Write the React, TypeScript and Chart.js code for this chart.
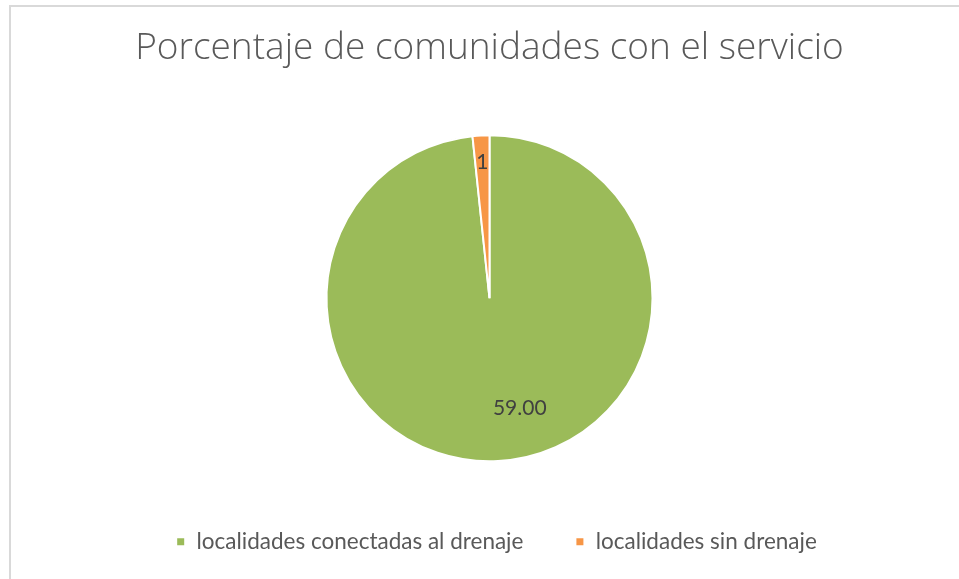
import React, { useEffect, useRef } from "react";
import { Chart, registerables } from "chart.js";

Chart.register(...registerables);

const categories = ["localidades conectadas al drenaje", "localidades sin drenaje"];
const values = [59, 1];
const valueLabels = ["59.00", "1"];
const colors = ["#9BBB59", "#F79646"];
const titleText = "Porcentaje de comunidades con el servicio";

// label placement along each arc: fraction of angle span, fraction of radius
const labelAngleFrac = [0.465, 0.5];
const labelRadiusFrac = [0.7, 0.835];

const labelPlugin = {
  id: "sliceLabels",
  afterDatasetsDraw(chart: any) {
    const ctx = chart.ctx;
    const meta = chart.getDatasetMeta(0);
    ctx.save();
    ctx.font = "21px Lato";
    ctx.fillStyle = "#404040";
    ctx.textAlign = "center";
    ctx.textBaseline = "middle";
    meta.data.forEach((arc: any, i: number) => {
      const { x, y, startAngle, endAngle, outerRadius } = arc.getProps(
        ["x", "y", "startAngle", "endAngle", "outerRadius"],
        true
      );
      const a = startAngle + (endAngle - startAngle) * labelAngleFrac[i];
      const r = outerRadius * labelRadiusFrac[i];
      ctx.fillText(valueLabels[i], x + Math.cos(a) * r, y + Math.sin(a) * r);
    });
    ctx.restore();
  },
};

const legendShift = {
  id: "legendShift",
  afterLayout(chart: any) {
    if (chart.legend) {
      chart.legend.left += 7;
      chart.legend.right += 7;
    }
  },
};

export default function App() {
  const ref = useRef<HTMLCanvasElement>(null);
  useEffect(() => {
    document.body.style.margin = "0";
    const chart = new Chart(ref.current as HTMLCanvasElement, {
      type: "pie",
      data: {
        labels: categories,
        datasets: [
          {
            data: values,
            backgroundColor: colors,
            borderColor: "#ffffff",
            borderWidth: 2,
            radius: 163,
          },
        ],
      },
      options: {
        animation: false,
        responsive: false,
        layout: { padding: { left: 20, right: 0, top: 0, bottom: 16 } },
        plugins: {
          tooltip: { enabled: false },
          title: {
            display: true,
            text: titleText,
            color: "#595959",
            font: { family: "'Open Sans'", size: 37, weight: "300", lineHeight: 1.2 },
            padding: { top: 26, bottom: 47.6 },
          },
          legend: {
            position: "bottom",
            labels: {
              color: "#595959",
              font: { family: "Lato", size: 22.5 },
              boxWidth: 9,
              boxHeight: 9,
              padding: 52,
            },
          },
        },
      },
      plugins: [labelPlugin, legendShift],
    });
    return () => chart.destroy();
  }, []);
  return (
    <div style={{ position: "relative", width: 959, height: 579, background: "#fff", overflow: "hidden" }}>
      <div
        style={{
          position: "absolute",
          left: 9,
          top: 5,
          width: 960,
          height: 600,
          borderTop: "2px solid #d9d9d9",
          borderLeft: "2px solid #d9d9d9",
        }}
      />
      <canvas ref={ref} width={959} height={579} style={{ position: "absolute", left: 0, top: 0 }} />
    </div>
  );
}
